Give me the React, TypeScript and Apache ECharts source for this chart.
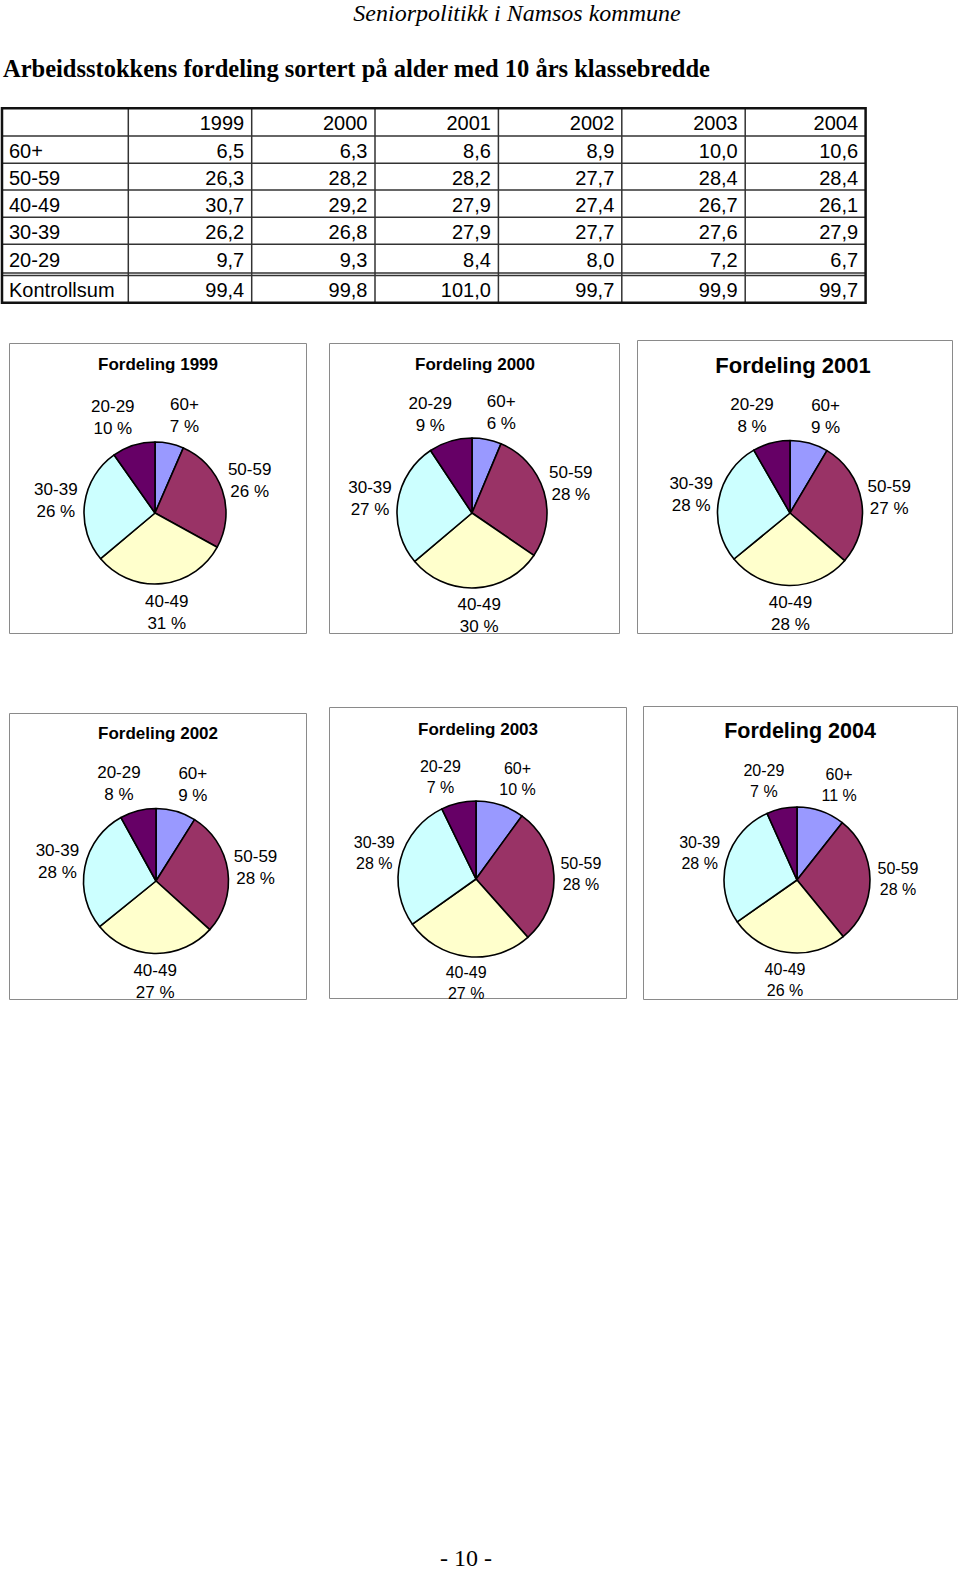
import React, { useEffect, useRef } from 'react';
import * as echarts from 'echarts';

// ---------- data ----------
const years = ['1999', '2000', '2001', '2002', '2003', '2004'];
const ageGroups = ['60+', '50-59', '40-49', '30-39', '20-29'];
const share60 = [6.5, 6.3, 8.6, 8.9, 10.0, 10.6];
const share50 = [26.3, 28.2, 28.2, 27.7, 28.4, 28.4];
const share40 = [30.7, 29.2, 27.9, 27.4, 26.7, 26.1];
const share30 = [26.2, 26.8, 27.9, 27.7, 27.6, 27.9];
const share20 = [9.7, 9.3, 8.4, 8.0, 7.2, 6.7];
const kontrollsum = [99.4, 99.8, 101.0, 99.7, 99.9, 99.7];
// percentages printed on the pie labels
const pct60 = [7, 6, 9, 9, 10, 11];
const pct50 = [26, 28, 27, 28, 28, 28];
const pct40 = [31, 30, 28, 27, 27, 26];
const pct30 = [26, 27, 28, 28, 28, 28];
const pct20 = [10, 9, 8, 8, 7, 7];

const headerText = 'Seniorpolitikk i Namsos kommune';
const titleText = 'Arbeidsstokkens fordeling sortert på alder med 10 års klassebredde';
const sumLabel = 'Kontrollsum';
const pageNumber = '- 10 -';

// ---------- styles / layout ----------
const sliceColors = ['#9999FF', '#993366', '#FFFFCC', '#CCFFFF', '#660066'];
const labelShiftX = [9, 0, 2, 0, -12];
const SANS = '"Liberation Sans", Arial, sans-serif';
const SERIF = '"Liberation Serif", "Times New Roman", serif';

const colX = [2, 128.3, 251.7, 375, 498.4, 621.8, 745.2, 865.6];
const rowY = [108.3, 136, 163.3, 190, 217.3, 244.3, 273, 302.7];

const panels = [
  { box: [9, 343, 297, 290], center: [155, 513], r: 71, title: [158, 364], ts: 17, ls: 17, len: 29 },
  { box: [329, 343, 290, 290], center: [472, 513], r: 75, title: [475, 364], ts: 17, ls: 17, len: 28 },
  { box: [637, 340, 315, 293], center: [790, 513], r: 72.5, title: [793, 365], ts: 22, ls: 17, len: 28 },
  { box: [9, 713, 297, 286], center: [156, 881], r: 72.5, title: [158, 733], ts: 17, ls: 17, len: 28 },
  { box: [329, 707, 297, 291], center: [476, 879], r: 78, title: [478, 729], ts: 17, ls: 16, len: 27 },
  { box: [643, 706, 314, 293], center: [797, 880], r: 73, title: [800, 731], ts: 21.5, ls: 16, len: 28 },
];

const fmt = (v: number) => v.toFixed(1).replace('.', ',');

function txt(text: string, x: number, y: number, font: string, align: string, vAlign = 'middle'): any {
  return {
    type: 'text',
    x,
    y,
    silent: true,
    style: { text, x: 0, y: 0, fill: '#000', font, align, verticalAlign: vAlign, textAlign: align, textVerticalAlign: vAlign },
  };
}

function line(x1: number, y1: number, x2: number, y2: number, w: number, c: string): any {
  return { type: 'line', silent: true, shape: { x1, y1, x2, y2 }, style: { stroke: c, lineWidth: w } };
}

export default function App() {
  const ref = useRef<HTMLDivElement>(null);

  useEffect(() => {
    const chart = echarts.init(ref.current!, null, { renderer: 'svg' });
    const shares = [share60, share50, share40, share30, share20];
    const pcts = [pct60, pct50, pct40, pct30, pct20];

    const graphics: any[] = [];
    graphics.push(txt(headerText, 517, 13, `italic 24px ${SERIF}`, 'center'));
    graphics.push(txt(titleText, 3, 68, `bold 24.5px ${SERIF}`, 'left'));

    // table grid
    const tL = colX[0], tR = colX[colX.length - 1], tT = rowY[0], tB = rowY[rowY.length - 1];
    for (let i = 1; i < colX.length - 1; i++) graphics.push(line(colX[i], tT, colX[i], tB, 1.5, '#333'));
    for (let j = 1; j < rowY.length - 1; j++) graphics.push(line(tL, rowY[j], tR, rowY[j], 1.5, '#333'));
    graphics.push(line(tL, rowY[6] + 2.6, tR, rowY[6] + 2.6, 1.5, '#333'));
    graphics.push({ type: 'rect', silent: true, shape: { x: tL, y: tT, width: tR - tL, height: tB - tT }, style: { fill: 'none', stroke: '#111', lineWidth: 2.5 } });

    const tableFont = `20px ${SANS}`;
    const rowMid = (j: number) => (j === 6 ? (rowY[6] + 2.6 + rowY[7]) / 2 : (rowY[j] + rowY[j + 1]) / 2) + 1;
    years.forEach((y, i) => graphics.push(txt(y, colX[i + 2] - 7.5, rowMid(0), tableFont, 'right')));
    ageGroups.forEach((g, k) => {
      graphics.push(txt(g, 9, rowMid(k + 1), tableFont, 'left'));
      shares[k].forEach((v, i) => graphics.push(txt(fmt(v), colX[i + 2] - 7.5, rowMid(k + 1), tableFont, 'right')));
    });
    graphics.push(txt(sumLabel, 9, rowMid(6), tableFont, 'left'));
    kontrollsum.forEach((v, i) => graphics.push(txt(fmt(v), colX[i + 2] - 7.5, rowMid(6), tableFont, 'right')));

    // panels
    panels.forEach((p, i) => {
      graphics.push({ type: 'rect', silent: true, shape: { x: p.box[0] + 0.5, y: p.box[1] + 0.5, width: p.box[2], height: p.box[3] }, style: { fill: 'none', stroke: '#8a8a8a', lineWidth: 1 } });
      graphics.push(txt('Fordeling ' + years[i], p.title[0], p.title[1], `bold ${p.ts}px ${SANS}`, 'center'));
    });

    graphics.push(txt(pageNumber, 466, 1558, `24px ${SERIF}`, 'center'));

    const series = panels.map((p, i) => ({
      type: 'pie',
      center: p.center,
      radius: p.r,
      startAngle: 90,
      clockwise: true,
      avoidLabelOverlap: false,
      animation: false,
      data: ageGroups.map((g, k) => ({ name: g, value: shares[k][i], itemStyle: { color: sliceColors[k] } })),
      itemStyle: { borderColor: '#000', borderWidth: 1.6 },
      label: {
        show: true,
        position: 'outside',
        distanceToLabelLine: 0,
        fontFamily: SANS,
        fontSize: p.ls,
        lineHeight: p.ls + 5,
        color: '#000',
        formatter: (prm: any) => `${prm.name}\n${pcts[prm.dataIndex][i]} %`,
      },
      labelLine: { show: false, length: p.len, length2: 0 },
      labelLayout: (prm: any) => {
        const r = prm.labelRect;
        if (!r) return { align: 'center', verticalAlign: 'middle' };
        const ax = prm.align === 'left' ? r.x : prm.align === 'right' ? r.x + r.width : r.x + r.width / 2;
        const ay = r.y + r.height / 2;
        return { x: ax + (labelShiftX[prm.dataIndex] || 0), y: ay, align: 'center', verticalAlign: 'middle' };
      },
      emphasis: { disabled: true },
    }));

    chart.setOption({
      animation: false,
      backgroundColor: '#fff',
      graphic: { elements: graphics },
      series,
    });
    return () => chart.dispose();
  }, []);

  return <div ref={ref} style={{ position: 'absolute', left: 0, top: 0, width: 960, height: 1570, background: '#fff' }} />;
}
